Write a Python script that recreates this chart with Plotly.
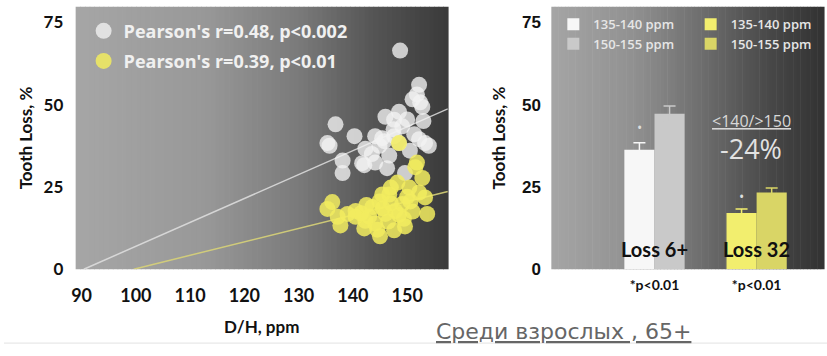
import plotly.graph_objects as go

# ---------------- data ----------------
white_x = [148.7, 152.2, 151.8, 152.4, 151.0, 152.8, 148.5, 146.0, 147.6, 149.1,
           136.8, 140.3, 135.3, 144.1, 145.8, 147.6, 153.3, 151.3, 135.7, 138.1,
           138.1, 142.3, 144.9, 146.7, 144.1, 142.1, 148.5, 154.0, 149.6, 152.2,
           146.3, 145.4, 141.7, 150.5, 143.5, 147.5, 153.0, 150.0]
white_y = [66.4, 56.0, 53.1, 50.7, 51.6, 49.3, 47.8, 46.3, 45.4, 43.4,
           44.0, 40.4, 38.3, 40.4, 38.9, 40.4, 38.3, 41.0, 37.5, 33.0,
           29.2, 36.6, 37.5, 34.5, 32.4, 31.6, 38.3, 37.5, 29.2, 39.5,
           30.7, 39.8, 32.2, 36.0, 35.0, 42.5, 45.0, 45.5]

yellow_x = [151.5, 148.2, 152.8, 152.2, 153.3, 150.6, 136.2, 135.3, 137.2, 137.7,
            140.5, 142.3, 143.6, 144.9, 146.7, 146.0, 147.8, 144.1, 145.0, 147.6,
            149.6, 149.4, 153.7, 142.1, 140.5, 149.1, 145.4, 147.0, 150.4, 148.5,
            151.8, 141.5, 143.0, 145.5, 146.5, 148.5, 139.0, 144.5, 147.0, 151.0,
            150.0, 142.5]
yellow_y = [31.0, 26.3, 27.7, 23.3, 21.8, 20.6, 20.4, 18.3, 15.9, 13.3,
            17.7, 14.7, 18.9, 20.6, 22.7, 16.8, 17.7, 13.9, 10.0, 11.8,
            13.0, 15.3, 16.8, 12.4, 15.9, 19.8, 22.7, 24.8, 24.8, 38.3,
            32.4, 17.0, 16.0, 18.5, 14.5, 16.5, 16.8, 12.0, 20.0, 17.5,
            22.0, 19.5]

fit_x = [90.4, 157.5]
fit_white_y = [0.0, 48.7]
fit_x_yellow = [99.6, 157.5]
fit_yellow_y = [0.0, 23.6]

legend_white = "Pearson's r=0.48, p<0.002"
legend_yellow = "Pearson's r=0.39, p<0.01"

bar_categories = ["Loss 6+", "Loss 32"]
bar_ticktext = ["*p<0.01", "*p<0.01"]
low_6 = [36.3]
low_6_err = [2.1]
high_6 = [47.2]
high_6_err = [2.4]
low_32 = [17.1]
low_32_err = [1.2]
high_32 = [23.3]
high_32_err = [1.4]
star_y = [43.0, 22.0]

x_ticks = [90, 100, 110, 120, 130, 140, 150]
y_ticks = [0, 25, 50, 75]

# ---------------- layout geometry ----------------
W, H = 827, 356
def px_x(p):
    return p / W
def px_y(p):
    return 1 - p / H

left_dom = [px_x(72), px_x(446)]
right_dom = [px_x(550), px_x(824)]
y_dom = [px_y(277), px_y(7)]

fig = go.Figure()

# regression lines
fig.add_trace(go.Scatter(x=fit_x, y=fit_white_y, mode="lines",
                         line=dict(color="rgba(225,225,225,0.85)", width=1.5),
                         showlegend=False, hoverinfo="skip", xaxis="x", yaxis="y"))
fig.add_trace(go.Scatter(x=fit_x_yellow, y=fit_yellow_y, mode="lines",
                         line=dict(color="rgba(215,210,120,0.9)", width=1.5),
                         showlegend=False, hoverinfo="skip", xaxis="x", yaxis="y"))

# scatter points
fig.add_trace(go.Scatter(x=white_x, y=white_y, mode="markers", name=legend_white,
                         marker=dict(size=16, color="rgba(242,242,242,0.78)", line=dict(width=0)),
                         legend="legend", xaxis="x", yaxis="y"))
fig.add_trace(go.Scatter(x=yellow_x, y=yellow_y, mode="markers", name=legend_yellow,
                         marker=dict(size=16, color="rgba(242,236,95,0.85)", line=dict(width=0)),
                         legend="legend2", xaxis="x", yaxis="y"))

# bars
def bar(xs, ys, err, color, name, grp, leg):
    return go.Bar(x=xs, y=ys, name=name, marker=dict(color=color, line=dict(width=0)),
                  error_y=dict(type="data", array=err, color=color, thickness=1.5, width=6),
                  offsetgroup=grp, xaxis="x2", yaxis="y2", legend=leg)

fig.add_trace(bar([0], low_6, low_6_err, "#f7f7f7", "135-140 ppm", "a", "legend3"))
fig.add_trace(bar([0], high_6, high_6_err, "#c9c9c9", "150-155 ppm", "b", "legend4"))
fig.add_trace(bar([1], low_32, low_32_err, "#f2ee6e", "135-140 ppm", "a", "legend5"))
fig.add_trace(bar([1], high_32, high_32_err, "#d9d566", "150-155 ppm", "b", "legend6"))

# background gradient strips
def grad_color(t, stops):
    for (t0, c0), (t1, c1) in zip(stops[:-1], stops[1:]):
        if t0 <= t <= t1:
            f = (t - t0) / (t1 - t0)
            v = int(round(c0 + (c1 - c0) * f))
            return f"rgb({v},{v},{v})"
    v = stops[-1][1]
    return f"rgb({v},{v},{v})"

left_stops = [(0, 166), (0.35, 152), (0.6, 122), (0.8, 85), (1.0, 58)]
right_stops = [(0, 165), (0.3, 145), (0.55, 110), (0.8, 72), (1.0, 50)]
shapes = []
N = 80
for axn, stops in (("x", left_stops), ("x2", right_stops)):
    yref = "y domain" if axn == "x" else "y2 domain"
    for i in range(N):
        t = (i + 0.5) / N
        shapes.append(dict(type="rect", xref=f"{axn} domain", yref=yref,
                           x0=i / N, x1=(i + 1) / N + 0.002, y0=0, y1=1,
                           fillcolor=grad_color(t, stops), line=dict(width=0),
                           layer="below"))
# faint bottom rule
shapes.append(dict(type="line", xref="paper", yref="paper", x0=0, x1=1,
                   y0=px_y(353), y1=px_y(353), line=dict(color="#e2e2e2", width=1)))

annotations = [
    dict(text="Loss 6+", x=0, y=6, xref="x2", yref="y2", showarrow=False,
         xanchor="center", yanchor="middle",
         font=dict(family="Lato", size=20, color="#111111", weight="bold")),
    dict(text="Loss 32", x=1, y=6, xref="x2", yref="y2", showarrow=False,
         xanchor="center", yanchor="middle",
         font=dict(family="Lato", size=20, color="#111111", weight="bold")),
    dict(text="•", x=0, y=star_y[0], xref="x2", yref="y2", xshift=-15, showarrow=False,
         xanchor="center", yanchor="middle", font=dict(size=14, color="#dddddd")),
    dict(text="•", x=1, y=star_y[1], xref="x2", yref="y2", xshift=-15, showarrow=False,
         xanchor="center", yanchor="middle", font=dict(size=14, color="#dddddd")),
    dict(text="<u>&lt;140/&gt;150</u>", x=px_x(751), y=px_y(124), xref="paper", yref="paper",
         xanchor="center", yanchor="middle",
         showarrow=False, font=dict(family="Open Sans", size=16, color="#d8d8d8")),
    dict(text="-24%", x=px_x(751), y=px_y(153), xref="paper", yref="paper",
         xanchor="center", yanchor="middle",
         showarrow=False, font=dict(family="Open Sans", size=27, color="#e2e2e2")),
    dict(text="<u>Среди взрослых , 65+</u>", x=px_x(432), y=px_y(341), xref="paper", yref="paper",
         xanchor="left", yanchor="middle", showarrow=False,
         font=dict(family="DejaVu Sans", size=22, color="#666666")),
]

tick_font = dict(family="Lato", size=17, color="#111111", weight="bold")

def leg(xp, yp, size, color="#f0f0f0", family="Open Sans", weight=700):
    return dict(x=px_x(xp), y=px_y(yp), xanchor="left", yanchor="middle",
                bgcolor="rgba(0,0,0,0)", borderwidth=0, itemsizing="trace",
                font=dict(family=family, size=size, color=color, weight=weight))

fig.update_layout(
    width=W, height=H, margin=dict(l=0, r=0, t=0, b=0),
    paper_bgcolor="white", plot_bgcolor="rgba(0,0,0,0)",
    barmode="group", bargap=0.41, bargroupgap=0,
    showlegend=True,
    legend=leg(80, 32, 18),
    legend2=leg(80, 63, 18),
    legend3=leg(552, 25, 13, "#e6e6e6", weight=600),
    legend4=leg(552, 45, 13, "#e6e6e6", weight=600),
    legend5=leg(690, 25, 13, "#e6e6e6", weight=600),
    legend6=leg(690, 45, 13, "#e6e6e6", weight=600),
    xaxis=dict(domain=left_dom, range=[88.9, 157.5], tickvals=x_ticks,
               showgrid=False, zeroline=False, showline=False,
               ticks="outside", ticklen=10, tickcolor="rgba(0,0,0,0)",
               tickfont=dict(family="Lato", size=18, color="#111111", weight="bold"),
               title=dict(text="D/H, ppm", standoff=16,
                          font=dict(family="Lato", size=17, color="#111111", weight="bold"))),
    yaxis=dict(domain=y_dom, range=[0, 79.7], tickvals=y_ticks, anchor="x",
               showgrid=False, zeroline=False, showline=False,
               ticks="outside", ticklen=8, tickcolor="rgba(0,0,0,0)", tickfont=tick_font,
               title=dict(text="Tooth Loss, %", standoff=6,
                          font=dict(family="Lato", size=17, color="#111111", weight="bold"))),
    xaxis2=dict(domain=right_dom, range=[-1.01, 1.66], tickvals=[0, 1], ticktext=bar_ticktext,
                anchor="y2", showgrid=False, zeroline=False, showline=False,
                ticks="outside", ticklen=3, tickcolor="rgba(0,0,0,0)",
                tickfont=dict(family="Lato", size=14, color="#111111", weight="bold")),
    yaxis2=dict(domain=y_dom, range=[0, 79.7], tickvals=y_ticks, anchor="x2",
                showgrid=False, zeroline=False, showline=False,
                ticks="outside", ticklen=6, tickcolor="rgba(0,0,0,0)",
                tickfont=dict(family="Liberation Sans", size=17, color="#111111", weight="bold"),
                title=dict(text="Tooth Loss, %", standoff=12,
                           font=dict(family="Lato", size=17, color="#111111", weight="bold"))),
    shapes=shapes,
    annotations=annotations,
)

fig.write_html("out.html")
